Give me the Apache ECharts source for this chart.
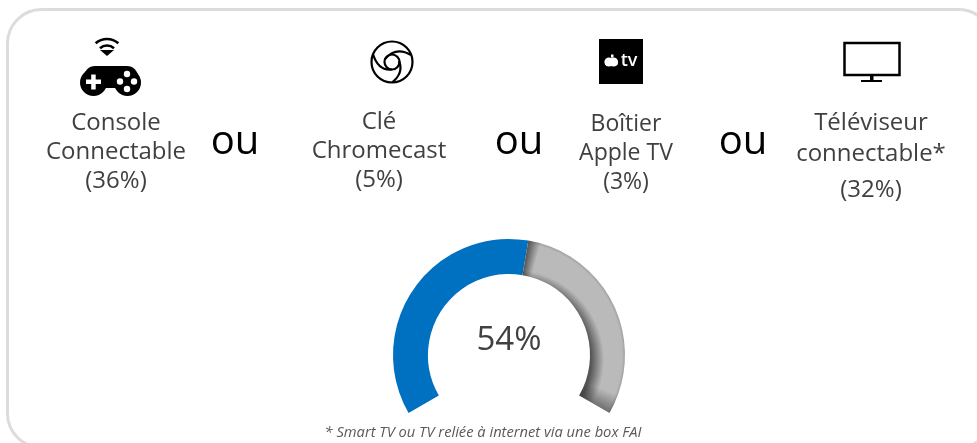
<!DOCTYPE html>
<html>
<head>
<meta charset="utf-8">
<style>
  html, body { margin: 0; padding: 0; background: #fff; }
  #chart { width: 977px; height: 443px; }
</style>
<script src="https://cdn.jsdelivr.net/npm/echarts@6/dist/echarts.min.js"></script>
</head>
<body>
<div id="chart"></div>
<script>
const deviceLines = [
  ['Console', 'Connectable'],
  ['Clé', 'Chromecast'],
  ['Boîtier', 'Apple TV'],
  ['Téléviseur', 'connectable*']
]
const deviceShares = [36, 5, 3, 32]
const gaugeNames = ['Equipés', 'Non équipés']
const gaugeValues = [54, 46]
const footnote = '* Smart TV ou TV reliée à internet via une box FAI'

const FONT = '"Open Sans", sans-serif'
const cx = 509, cy = 355, rIn = 81, rOut = 116

// text columns: centre x and the y of each of the 3 lines
const columns = [
  { x: 116, y: [123, 152, 181], size: 24 },
  { x: 379, y: [122, 151, 180], size: 24 },
  { x: 626, y: [124, 153, 182], size: 23 },
  { x: 871, y: [123, 154, 190], size: 24 }
]
const orX = [235, 519, 743]

function txt(text, x, y, size, color, extra) {
  return {
    type: 'text', x, y, silent: true,
    style: Object.assign({ text, fill: color, font: size + 'px ' + FONT, align: 'center', verticalAlign: 'middle' }, extra)
  }
}

const labels = []
columns.forEach((col, i) => {
  const lines = deviceLines[i].concat('(' + deviceShares[i] + '%)')
  lines.forEach((line, j) => labels.push(txt(line, col.x, col.y[j], col.size, '#404040')))
})
orX.forEach(x => labels.push(txt('ou', x, 143, 40, '#000')))
labels.push(txt(gaugeValues[0] + '%', 509, 341, 33, '#404040'))
labels.push(txt(footnote, 483, 433, 14.7, '#595959', { font: 'italic 14.7px ' + FONT }))

// card frame
const frame = {
  type: 'rect', silent: true, z: -1,
  shape: { x: 7.5, y: 9.5, width: 985, height: 438, r: 34 },
  style: { fill: '#fff', stroke: '#dcdcdc', lineWidth: 3 }
}

// console + wifi icon
const k = '#000'
const wifiArc = (r, a0, a1, lw) => ({
  type: 'arc', silent: true,
  shape: { cx: 107, cy: 56, r, startAngle: a0, endAngle: a1 },
  style: { stroke: k, fill: null, lineWidth: lw }
})
const pad = [
  wifiArc(17, -2.3, -0.84, 2.6), wifiArc(10.5, -2.3, -0.84, 2.6),
  { type: 'polygon', silent: true, shape: { points: [[100, 50], [114, 50], [107, 56]] }, style: { fill: k } },
  { type: 'rect', silent: true, shape: { x: 84, y: 66, width: 54, height: 22, r: 12 }, style: { fill: k } },
  { type: 'circle', silent: true, shape: { cx: 93.5, cy: 82.5, r: 13.5 }, style: { fill: k } },
  { type: 'circle', silent: true, shape: { cx: 127.5, cy: 82.5, r: 13.5 }, style: { fill: k } },
  { type: 'rect', silent: true, shape: { x: 86, y: 79.5, width: 15, height: 4.5 }, style: { fill: '#fff' } },
  { type: 'rect', silent: true, shape: { x: 91.2, y: 74.5, width: 4.5, height: 15 }, style: { fill: '#fff' } }
]
;[[127, 74], [120, 81.5], [134, 81.5], [127, 89]].forEach(p => {
  pad.push({ type: 'circle', silent: true, shape: { cx: p[0], cy: p[1], r: 3.2 }, style: { fill: '#fff' } })
})

// chromecast icon
const ringStyle = { stroke: k, fill: null, lineWidth: 2.2 }
const curve = (x1, y1, cpx1, cpy1, x2, y2) => ({
  type: 'bezierCurve', silent: true,
  shape: { x1, y1, cpx1, cpy1, x2, y2 }, style: ringStyle
})
const cast = [
  { type: 'circle', silent: true, shape: { cx: 392, cy: 62, r: 20.5 }, style: ringStyle },
  { type: 'circle', silent: true, shape: { cx: 392, cy: 62, r: 7.5 }, style: ringStyle },
  curve(385, 59, 396, 46, 411, 55),
  curve(373, 54, 378, 71, 392, 69.5),
  curve(399, 61, 404, 73, 392, 82.5)
]

// apple tv icon
const appleTv = [
  { type: 'rect', silent: true, shape: { x: 599, y: 39, width: 44, height: 45 }, style: { fill: k } },
  { type: 'circle', silent: true, shape: { cx: 609, cy: 62, r: 4.6 }, style: { fill: '#fff' } },
  { type: 'circle', silent: true, shape: { cx: 613.5, cy: 62, r: 4.6 }, style: { fill: '#fff' } },
  { type: 'rect', silent: true, shape: { x: 605, y: 63, width: 12.5, height: 2 }, style: { fill: '#fff' } },
  { type: 'rect', silent: true, shape: { x: 611, y: 54.5, width: 2.5, height: 3 }, style: { fill: '#fff' } },
  txt('tv', 629, 61, 18, '#fff', { font: '600 18px ' + FONT })
]

// tv icon
const tv = [
  { type: 'rect', silent: true, shape: { x: 844.5, y: 43, width: 55, height: 32 }, style: { fill: '#fff', stroke: k, lineWidth: 2.5 } },
  { type: 'rect', silent: true, shape: { x: 870, y: 75, width: 3.5, height: 6 }, style: { fill: k } },
  { type: 'rect', silent: true, shape: { x: 861, y: 80, width: 21, height: 2 }, style: { fill: k } }
]

// shading texture for the grey slice
function greyTexture() {
  const c = document.createElement('canvas')
  c.width = 977
  c.height = 443
  const g = c.getContext('2d')
  g.fillStyle = '#bababa'
  g.fillRect(0, 0, 977, 443)
  let r = g.createRadialGradient(cx + 5, cy + 5, 77, cx + 5, cy + 5, 90)
  r.addColorStop(0, 'rgba(60,60,60,.8)')
  r.addColorStop(1, 'rgba(60,60,60,0)')
  g.fillStyle = r
  g.fillRect(0, 0, 977, 443)
  r = g.createRadialGradient(cx, cy, 113, cx, cy, rOut)
  r.addColorStop(0, 'rgba(70,70,70,0)')
  r.addColorStop(1, 'rgba(70,70,70,.22)')
  g.fillStyle = r
  g.fillRect(0, 0, 977, 443)
  // the ends of the slice, canvas angles run clockwise from east
  const deg = Math.PI / 180
  const con = g.createConicGradient(-100 * deg, cx, cy)
  const a = (d) => d / 360
  con.addColorStop(0, 'rgba(50,50,50,0)')
  con.addColorStop(a(19.2), 'rgba(50,50,50,0)')
  con.addColorStop(a(19.6), 'rgba(50,50,50,.75)')
  con.addColorStop(a(26), 'rgba(50,50,50,0)')
  con.addColorStop(a(120), 'rgba(50,50,50,0)')
  con.addColorStop(a(130), 'rgba(50,50,50,.55)')
  con.addColorStop(a(131), 'rgba(50,50,50,0)')
  con.addColorStop(1, 'rgba(50,50,50,0)')
  g.fillStyle = con
  g.fillRect(0, 0, 977, 443)
  return c
}

const chart = echarts.init(document.getElementById('chart'), null, { renderer: 'canvas' })
chart.setOption({
  animation: false,
  backgroundColor: '#fff',
  graphic: { elements: [frame].concat(pad, cast, appleTv, tv, labels) },
  series: [{
    type: 'pie',
    center: [cx, cy],
    radius: [rIn, rOut],
    startAngle: 210,
    endAngle: -30,
    silent: true,
    label: { show: false },
    labelLine: { show: false },
    data: gaugeNames.map((name, i) => ({
      name,
      value: gaugeValues[i],
      itemStyle: { color: i === 0 ? '#0070c0' : { image: greyTexture(), repeat: 'no-repeat' } }
    }))
  }]
})
</script>
</body>
</html>
